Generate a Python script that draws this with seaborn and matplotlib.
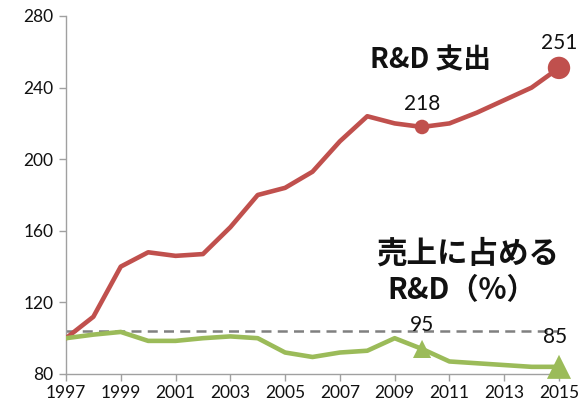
import matplotlib
matplotlib.use("Agg")
import matplotlib.pyplot as plt
import seaborn as sns
import pandas as pd

years = list(range(1997, 2016))
rd_spend = [100, 112, 140, 148, 146, 147, 162, 180, 184, 193, 210, 224, 220, 218, 220, 226, 233, 240, 251]
rd_ratio = [100, 102, 103.5, 98.5, 98.5, 100, 101, 100, 92, 89.5, 92, 93, 100, 94, 87, 86, 85, 84, 84]
ratio_labels = {2010: "95", 2015: "85"}
baseline = 104
yticks = [80, 120, 160, 200, 240, 280]
xticks = list(range(1997, 2016, 2))
label_spend = "R&D 支出"
label_ratio_1 = "売上に占める"
label_ratio_2 = "R&D（%）"

RED = "#C0504D"
GREEN = "#9BBB59"

sns.set_theme(style="white")
plt.rcParams["font.family"] = ["Lato", "Noto Sans CJK JP", "DejaVu Sans"]

df = pd.DataFrame({
    "year": years * 2,
    "value": rd_spend + rd_ratio,
    "series": ["spend"] * len(years) + ["ratio"] * len(years),
})

fig = plt.figure(figsize=(5.78, 4.09), dpi=100)
ax = fig.add_axes([66 / 578, 1 - 374 / 409, (559 - 66) / 578, (374 - 16) / 409])

ax.axhline(baseline, color="#808080", lw=1.8, ls=(0, (4, 2.5)), zorder=1)
sns.lineplot(data=df, x="year", y="value", hue="series",
             palette={"spend": RED, "ratio": GREEN}, linewidth=3.3,
             legend=False, ax=ax, zorder=3)

i10 = years.index(2010)
i15 = years.index(2015)
ax.scatter([years[i10]], [rd_spend[i10]], s=110, color=RED, zorder=4, clip_on=False, edgecolors="none")
ax.scatter([years[i15]], [rd_spend[i15]], s=260, color=RED, zorder=4, clip_on=False, edgecolors="none")
ax.scatter([years[i10]], [rd_ratio[i10]], s=170, marker="^", color=GREEN, zorder=4, clip_on=False, edgecolors="none")
ax.scatter([years[i15]], [rd_ratio[i15]], s=300, marker="^", color=GREEN, zorder=4, clip_on=False, edgecolors="none")

ax.annotate(f"{rd_spend[i10]}", (years[i10], rd_spend[i10]), xytext=(0, 9), textcoords="offset points",
            ha="center", va="bottom", fontsize=15, color="#111111")
ax.annotate(f"{rd_spend[i15]}", (years[i15], rd_spend[i15]), xytext=(0, 11), textcoords="offset points",
            ha="center", va="bottom", fontsize=15, color="#111111")
ax.annotate(ratio_labels[2010], (years[i10], rd_ratio[i10]), xytext=(0, 10), textcoords="offset points",
            ha="center", va="bottom", fontsize=15, color="#111111")
ax.annotate(ratio_labels[2015], (years[i15], rd_ratio[i15]), xytext=(-3, 14), textcoords="offset points",
            ha="center", va="bottom", fontsize=15, color="#111111")

ax.text(2010.3, 255, label_spend, ha="center", va="center", fontsize=20, fontweight="bold",
        family=["Noto Sans CJK JP"], color="#111111")
ax.text(2011.65, 147.5, label_ratio_1, ha="center", va="center", fontsize=22, fontweight="bold",
        family=["Noto Sans CJK JP"], color="#111111")
ax.text(2011.45, 127, label_ratio_2, ha="center", va="center", fontsize=21, fontweight="bold",
        family=["Noto Sans CJK JP"], color="#111111")

ax.set_xlim(1997, 2015)
ax.set_ylim(80, 280)
ax.set_xticks(xticks)
ax.set_yticks(yticks)
ax.set_xlabel("")
ax.set_ylabel("")
for s in ["top", "right"]:
    ax.spines[s].set_visible(False)
for s in ["left", "bottom"]:
    ax.spines[s].set_color("#A0A0A0")
    ax.spines[s].set_linewidth(1)
ax.tick_params(axis="both", which="both", length=5, width=1, color="#A0A0A0",
               labelsize=12.5, labelcolor="#111111", direction="out", bottom=True, left=True)
ax.tick_params(axis="x", pad=3)
ax.tick_params(axis="y", pad=4)

fig.savefig("out.png", dpi=100)
